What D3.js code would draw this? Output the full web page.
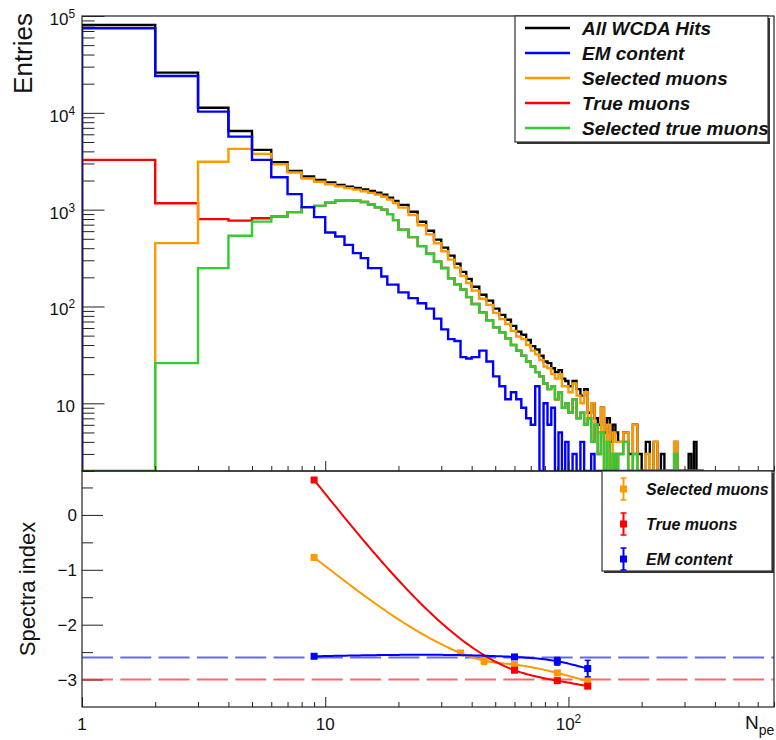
<!DOCTYPE html>
<html>
<head>
<meta charset="utf-8">
<script src="https://cdn.jsdelivr.net/npm/d3@7"></script>
<style>
  body { margin: 0; background: #fff; }
  svg text { font-family: "Liberation Sans", Arial, Helvetica, sans-serif; fill: #111; }
</style>
</head>
<body>
<svg id="chart"></svg>
<script>
// ---- histogram binning (Npe) ----
const binEdges = [
  ...d3.range(1, 20), ...d3.range(20, 40, 2), ...d3.range(40, 100, 3),
  ...d3.range(100, 160, 4), ...d3.range(160, 361, 8)
];

// ---- counts per bin ----
const allHits = [
  80700, 26000, 11300, 6500, 4140, 3090, 2515, 2200, 2030, 1905, 1803, 1731, 1680, 1620, 1560, 1500, 1430, 1330, 1230,
  1120, 950, 750, 605, 490, 405, 335, 276, 228, 193,
  160, 132, 115, 95, 82, 73, 63, 55, 51, 45, 39, 36, 31, 27, 26, 23, 21, 22, 18, 17,
  15, 17, 14, 12, 14, 8, 10, 7, 6, 9, 5, 7, 4, 6, 5,
  4, 5, 3, 6, 3, 0, 4, 0, 4, 0, 3, 0, 0, 0, 4, 0, 0, 0, 0, 3, 0, 4, 0, 0, 0
];
const emContent = [
  74600, 24000, 10300, 5680, 3270, 2160, 1446, 1062, 838, 581, 528, 433, 356, 316, 249, 249, 204, 168, 168,
  140, 122, 108, 95, 75, 58, 46, 44, 30, 29,
  30, 35, 27, 19, 15, 11, 13, 11, 9, 7, 6, 15, 0, 10, 6, 9, 0, 5, 0, 4,
  0, 3, 0, 4, 0, 0, 3, 0, 0, 0, 0, 0, 0, 0, 0,
  0, 0, 0, 0, 0, 0, 0, 0, 0, 0, 0, 0, 0, 0, 0, 0, 0, 0, 0, 0, 0, 0, 0, 0, 0
];
const selMuons = [
  0, 451, 3130, 4240, 3770, 2940, 2420, 2095, 1940, 1830, 1740, 1670, 1610, 1550, 1490, 1430, 1360, 1270, 1170,
  1050, 880, 690, 555, 450, 372, 305, 252, 207, 175,
  146, 120, 104, 86, 74, 66, 56, 49, 46, 40, 35, 32, 28, 24, 23, 20, 18, 20, 15, 15,
  13, 16, 12, 10, 13, 7, 10, 6, 5, 9, 4, 6, 0, 5, 4,
  4, 5, 0, 6, 0, 0, 3, 0, 4, 0, 0, 0, 0, 0, 4, 0, 0, 0, 0, 0, 0, 0, 0, 0, 0
];
const selTrueMuons = [
  0, 26, 249, 537, 753, 849, 942, 1062, 1093, 1183, 1240, 1250, 1240, 1200, 1130, 1060, 1000, 900, 780,
  620, 520, 420, 350, 290, 250, 195, 170, 150, 125,
  106, 87, 72, 61, 54, 47, 40, 35, 31, 27, 24, 21, 19, 16, 14, 15, 11, 13, 9, 10,
  8, 11, 7, 8, 6, 7, 4, 6, 3, 5, 0, 4, 0, 3, 0,
  3, 4, 0, 3, 0, 0, 0, 0, 0, 0, 0, 0, 0, 0, 3, 0, 0, 0, 0, 0, 0, 0, 0, 0, 0
];
// true muons: first bins read directly, above that they sit under the selected true muons
const trueMuonsHead = [3270, 1166, 798, 771, 816];
const trueMuons = trueMuonsHead.concat(selTrueMuons.slice(trueMuonsHead.length));

// ---- spectra index points ----
const selIdxN   = [9, 36, 45, 60, 90, 120];
const selIdx    = [-0.776, -2.515, -2.655, -2.727, -2.88, -3.03];
const selIdxErr = [0.02, 0.03, 0.07, 0.03, 0.04, 0.05];
const trueIdxN   = [9, 60, 90, 120];
const trueIdx    = [0.636, -2.83, -3.02, -3.12];
const trueIdxErr = [0.02, 0.03, 0.03, 0.04];
const emIdxN   = [9, 60, 90, 120];
const emIdx    = [-2.576, -2.588, -2.667, -2.80];
const emIdxErr = [0.02, 0.04, 0.07, 0.15];
const emRef = -2.6;
const muRef = -3.0;

// ---- tick labels ----
const topYLabels = [[10, '10', ''], [100, '10', '2'], [1000, '10', '3'], [10000, '10', '4'], [100000, '10', '5']];
const botYLabels = [[0, '0'], [-1, '\u22121'], [-2, '\u22122'], [-3, '\u22123']];
const xLabels = [[1, '1', ''], [10, '10', ''], [100, '10', '2']];

const histLegend = [
  ['All WCDA Hits', '#000000'],
  ['EM content', '#0000ff'],
  ['Selected muons', '#ff9900'],
  ['True muons', '#ff0000'],
  ['Selected true muons', '#33cc33']
];
const idxLegend = [
  ['Selected muons', '#ff9900'],
  ['True muons', '#ff0000'],
  ['EM content', '#0000ff']
];

// ---- layout ----
const W = 776, H = 740;
const frame = { left: 82, right: 774, top: 16, split: 471, bottom: 707 };

const svg = d3.select('#chart').attr('width', W).attr('height', H);

const x = d3.scaleLog().domain([1, 700]).range([frame.left, frame.right]);
const yTop = d3.scaleLog().domain([2, 1e5]).range([frame.split, frame.top]);
const yBot = d3.scaleLinear().domain([-3.5, 0.8]).range([frame.bottom, frame.split]);

const isPow10 = t => Math.abs(Math.log10(t) - Math.round(Math.log10(t))) < 1e-9;

const defs = svg.append('defs');
defs.append('clipPath').attr('id', 'clipTop').append('rect')
  .attr('x', frame.left).attr('y', frame.top)
  .attr('width', frame.right - frame.left).attr('height', frame.split - frame.top);
defs.append('clipPath').attr('id', 'clipBot').append('rect')
  .attr('x', frame.left).attr('y', frame.split)
  .attr('width', frame.right - frame.left).attr('height', frame.bottom - frame.split);

// ---- top panel: histograms ----
const histLine = d3.line()
  .x(p => x(p[0]))
  .y(p => p[1] >= 2 ? yTop(p[1]) : frame.split);

function histPoints(counts) {
  const pts = [[binEdges[0], 0]];
  counts.forEach((v, i) => {
    pts.push([binEdges[i], v]);
    pts.push([binEdges[i + 1], v]);
  });
  pts.push([binEdges[counts.length], 0]);
  return pts;
}

const gHist = svg.append('g').attr('clip-path', 'url(#clipTop)');
[[allHits, '#000000'], [trueMuons, '#ff0000'], [selMuons, '#ff9900'],
 [selTrueMuons, '#33cc33'], [emContent, '#0000ff']].forEach(([counts, col]) => {
  gHist.append('path')
    .datum(histPoints(counts))
    .attr('fill', 'none')
    .attr('stroke', col)
    .attr('stroke-width', 2.4)
    .attr('stroke-linejoin', 'miter')
    .attr('d', histLine);
});

// ---- axes / ticks ----
const axisColor = '#222';
function dropDomain(g) { g.select('.domain').remove(); }

const yTopTicks = yTop.ticks();
svg.append('g').attr('transform', `translate(${frame.left},0)`).attr('color', axisColor)
  .call(d3.axisLeft(yTop).tickValues(yTopTicks.filter(t => !isPow10(t))).tickSize(-12.5).tickFormat(''))
  .call(dropDomain);
svg.append('g').attr('transform', `translate(${frame.left},0)`).attr('color', axisColor)
  .call(d3.axisLeft(yTop).tickValues(yTopTicks.filter(isPow10)).tickSize(-22.5).tickFormat(''))
  .call(dropDomain);

const xTicks = x.ticks();
[frame.split, frame.bottom].forEach(yPos => {
  svg.append('g').attr('transform', `translate(0,${yPos})`).attr('color', axisColor)
    .call(d3.axisBottom(x).tickValues(xTicks.filter(t => !isPow10(t))).tickSize(-5).tickFormat(''))
    .call(dropDomain);
  svg.append('g').attr('transform', `translate(0,${yPos})`).attr('color', axisColor)
    .call(d3.axisBottom(x).tickValues(xTicks.filter(isPow10)).tickSize(-10).tickFormat(''))
    .call(dropDomain);
});

const yBotTicks = d3.range(-3, 0.8, 0.5);
svg.append('g').attr('transform', `translate(${frame.left},0)`).attr('color', axisColor)
  .call(d3.axisLeft(yBot).tickValues(yBotTicks.filter(t => !Number.isInteger(t))).tickSize(-11).tickFormat(''))
  .call(dropDomain);
svg.append('g').attr('transform', `translate(${frame.left},0)`).attr('color', axisColor)
  .call(d3.axisLeft(yBot).tickValues(yBotTicks.filter(t => Number.isInteger(t))).tickSize(-21).tickFormat(''))
  .call(dropDomain);

// frames
[[frame.top, frame.split], [frame.split, frame.bottom]].forEach(([t, b]) => {
  svg.append('rect')
    .attr('x', frame.left).attr('y', t)
    .attr('width', frame.right - frame.left).attr('height', b - t)
    .attr('fill', 'none').attr('stroke', axisColor).attr('stroke-width', 1.2);
});

// tick labels
function powText(sel, base, exp, size) {
  sel.append('tspan').text(base);
  if (exp) sel.append('tspan').attr('dy', -7).attr('font-size', size * 0.7).text(exp);
}
topYLabels.forEach(([v, b, e]) => {
  const t = svg.append('text').attr('x', 75).attr('y', yTop(v) + 9)
    .attr('text-anchor', 'end').attr('font-size', 17);
  powText(t, b, e, 17);
});
botYLabels.forEach(([v, s]) => {
  svg.append('text').attr('x', 77).attr('y', yBot(v) + 6)
    .attr('text-anchor', 'end').attr('font-size', 17).text(s);
});
xLabels.forEach(([v, b, e]) => {
  const t = svg.append('text').attr('x', x(v)).attr('y', 730)
    .attr('text-anchor', 'middle').attr('font-size', 17);
  powText(t, b, e, 17);
});

// axis titles
svg.append('text').attr('transform', `translate(32,${frame.top - 3}) rotate(-90)`)
  .attr('text-anchor', 'end').attr('font-size', 26).text('Entries');
svg.append('text').attr('transform', `translate(35,${(frame.split + frame.bottom) / 2}) rotate(-90)`)
  .attr('text-anchor', 'middle').attr('font-size', 22).text('Spectra index');
const npe = svg.append('text').attr('x', 745).attr('y', 729).attr('font-size', 19);
npe.append('tspan').text('N');
npe.append('tspan').attr('dy', 6).attr('font-size', 14).text('pe');

// ---- bottom panel ----
const gBot = svg.append('g').attr('clip-path', 'url(#clipBot)');
[[emRef, '#0000ff'], [muRef, '#ff0000']].forEach(([v, col]) => {
  gBot.append('line')
    .attr('x1', frame.left).attr('x2', frame.right)
    .attr('y1', yBot(v)).attr('y2', yBot(v))
    .attr('stroke', col).attr('stroke-opacity', 0.6)
    .attr('stroke-width', 2).attr('stroke-dasharray', '31,7.3');
});

// natural cubic spline in log10(N) space
function naturalSpline(us, ys) {
  const n = us.length, h = [], M = new Array(n).fill(0);
  for (let i = 0; i < n - 1; i++) h.push(us[i + 1] - us[i]);
  const a = [], b = [], c = [], r = [];
  for (let i = 1; i < n - 1; i++) {
    a.push(h[i - 1]); b.push(2 * (h[i - 1] + h[i])); c.push(h[i]);
    r.push(6 * ((ys[i + 1] - ys[i]) / h[i] - (ys[i] - ys[i - 1]) / h[i - 1]));
  }
  const m = r.length;
  for (let i = 1; i < m; i++) {
    const w = a[i] / b[i - 1];
    b[i] -= w * c[i - 1]; r[i] -= w * r[i - 1];
  }
  const sol = new Array(m);
  for (let i = m - 1; i >= 0; i--) sol[i] = (r[i] - (i < m - 1 ? c[i] * sol[i + 1] : 0)) / b[i];
  for (let i = 0; i < m; i++) M[i + 1] = sol[i];
  return u => {
    let k = 0;
    while (k < n - 2 && u > us[k + 1]) k++;
    const hk = h[k], A = us[k + 1] - u, B = u - us[k];
    return (M[k] * A * A * A + M[k + 1] * B * B * B) / (6 * hk)
      + (ys[k] / hk - M[k] * hk / 6) * A + (ys[k + 1] / hk - M[k + 1] * hk / 6) * B;
  };
}

const curveLine = d3.line().x(p => x(p[0])).y(p => yBot(p[1]));
function drawIndex(ns, vals, errs, col) {
  const us = ns.map(Math.log10);
  const f = naturalSpline(us, vals);
  const pts = d3.range(0, 121).map(i => {
    const u = us[0] + (us[us.length - 1] - us[0]) * i / 120;
    return [Math.pow(10, u), f(u)];
  });
  gBot.append('path').datum(pts)
    .attr('fill', 'none').attr('stroke', col).attr('stroke-width', 2).attr('d', curveLine);
  const g = gBot.append('g');
  ns.forEach((n, i) => {
    const cx = x(n), y0 = yBot(vals[i] - errs[i]), y1 = yBot(vals[i] + errs[i]);
    g.append('line').attr('x1', cx).attr('x2', cx).attr('y1', y0).attr('y2', y1)
      .attr('stroke', col).attr('stroke-width', 2);
    [y0, y1].forEach(yy => g.append('line').attr('x1', cx - 3).attr('x2', cx + 3)
      .attr('y1', yy).attr('y2', yy).attr('stroke', col).attr('stroke-width', 1.5));
    g.append('rect').attr('x', cx - 3.5).attr('y', yBot(vals[i]) - 3.5)
      .attr('width', 7).attr('height', 7).attr('fill', col);
  });
}
drawIndex(selIdxN, selIdx, selIdxErr, '#ff9900');
drawIndex(trueIdxN, trueIdx, trueIdxErr, '#ff0000');
drawIndex(emIdxN, emIdx, emIdxErr, '#0000ff');

// ---- legends ----
function legendBox(x0, y0, x1, y1) {
  svg.append('rect').attr('x', x0 + 2).attr('y', y0 + 2).attr('width', x1 - x0).attr('height', y1 - y0)
    .attr('fill', '#333');
  svg.append('rect').attr('x', x0).attr('y', y0).attr('width', x1 - x0).attr('height', y1 - y0)
    .attr('fill', '#fff').attr('stroke', '#333').attr('stroke-width', 1.2);
}

legendBox(515, frame.top, 768, 142);
histLegend.forEach(([label, col], i) => {
  const ry = 28 + i * 25;
  svg.append('line').attr('x1', 525).attr('x2', 570).attr('y1', ry).attr('y2', ry)
    .attr('stroke', col).attr('stroke-width', 2.4);
  svg.append('text').attr('x', 582).attr('y', ry + 7)
    .attr('font-size', 19).attr('font-weight', 'bold').attr('font-style', 'italic').text(label);
});

legendBox(602, frame.split, 772, 571);
idxLegend.forEach(([label, col], i) => {
  const ry = 489 + i * 35;
  svg.append('line').attr('x1', 623.5).attr('x2', 623.5).attr('y1', ry - 11).attr('y2', ry + 11)
    .attr('stroke', col).attr('stroke-width', 2);
  [ry - 11, ry + 11].forEach(yy => svg.append('line').attr('x1', 620.5).attr('x2', 626.5)
    .attr('y1', yy).attr('y2', yy).attr('stroke', col).attr('stroke-width', 1.5));
  svg.append('rect').attr('x', 620).attr('y', ry - 3.5).attr('width', 7).attr('height', 7).attr('fill', col);
  svg.append('text').attr('x', 646).attr('y', ry + 6)
    .attr('font-size', 16).attr('font-weight', 'bold').attr('font-style', 'italic').text(label);
});
</script>
</body>
</html>
